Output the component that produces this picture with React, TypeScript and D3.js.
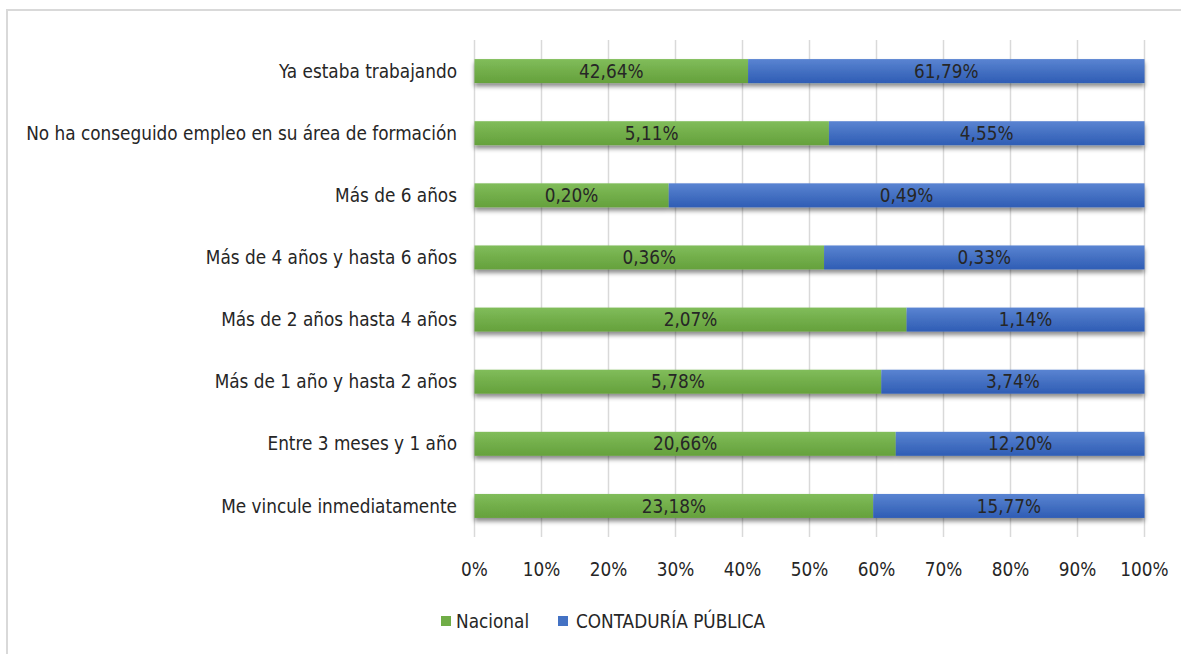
import React from "react";
import * as d3 from "d3";

const categories = [
  "Ya estaba trabajando",
  "No ha conseguido empleo en su área de formación",
  "Más de 6 años",
  "Más de 4 años y hasta 6 años",
  "Más de 2 años hasta 4 años",
  "Más de 1 año y hasta 2 años",
  "Entre 3 meses y 1 año",
  "Me vincule inmediatamente",
];
const nacional = [42.64, 5.11, 0.2, 0.36, 2.07, 5.78, 20.66, 23.18];
const contaduria = [61.79, 4.55, 0.49, 0.33, 1.14, 3.74, 12.2, 15.77];
const seriesNames = ["Nacional", "CONTADURÍA PÚBLICA"];
const tickValues = [0, 0.1, 0.2, 0.3, 0.4, 0.5, 0.6, 0.7, 0.8, 0.9, 1];

const W = 1181;
const H = 654;
const FONT = "'DejaVu Sans Condensed', 'Liberation Sans', sans-serif";
const FS = 18.8;

const fmt = (v: number) => v.toFixed(2).replace(".", ",") + "%";

export default function App() {
  const x = d3.scaleLinear().domain([0, 1]).range([474.5, 1144.5]);
  const y = d3
    .scaleBand<string>()
    .domain(categories)
    .range([40, 537])
    .paddingInner(0.614)
    .paddingOuter(0.307);
  const bw = y.bandwidth();

  const rows = categories.map((c, i) => {
    const a = nacional[i];
    const b = contaduria[i];
    const t = a + b;
    return { c, a, b, fa: a / t, fb: b / t };
  });

  return (
    <svg
      width={W}
      height={H}
      style={{ position: "absolute", left: 0, top: 0, display: "block", background: "#fff" }}
      fontFamily={FONT}
    >
      <defs>
        <linearGradient id="gGreen" x1="0" y1="0" x2="0" y2="1">
          <stop offset="0" stopColor="#81bd5b" />
          <stop offset="0.5" stopColor="#72ae4a" />
          <stop offset="1" stopColor="#65a13c" />
        </linearGradient>
        <linearGradient id="gBlue" x1="0" y1="0" x2="0" y2="1">
          <stop offset="0" stopColor="#5a84d2" />
          <stop offset="0.5" stopColor="#4470c2" />
          <stop offset="1" stopColor="#2f5db5" />
        </linearGradient>
        <filter id="shadow" x="-5%" y="-30%" width="110%" height="190%">
          <feDropShadow dx="0" dy="3.5" stdDeviation="2.2" floodColor="#000" floodOpacity="0.45" />
        </filter>
      </defs>
      {/* outer border */}
      <path d={`M7,${H} L7,10 L${W},10`} fill="none" stroke="#d9d9d9" strokeWidth={2} />

      {/* gridlines */}
      {tickValues.map((t) => (
        <line
          key={t}
          x1={x(t)}
          x2={x(t)}
          y1={40}
          y2={537}
          stroke="#d9d9d9"
          strokeWidth={1.5}
        />
      ))}

      {/* bars */}
      {rows.map((r) => {
        const y0 = y(r.c)!;
        return (
          <g key={r.c}>
            <g filter="url(#shadow)">
              <rect x={x(0)} y={y0} width={x(r.fa) - x(0)} height={bw} fill="url(#gGreen)" />
              <rect x={x(r.fa)} y={y0} width={x(1) - x(r.fa)} height={bw} fill="url(#gBlue)" />
            </g>
            <text
              x={(x(0) + x(r.fa)) / 2}
              y={y0 + bw / 2}
              dy="0.35em"
              textAnchor="middle"
              fontSize={FS}
              fill="#262626"
            >
              {fmt(r.a)}
            </text>
            <text
              x={(x(r.fa) + x(1)) / 2}
              y={y0 + bw / 2}
              dy="0.35em"
              textAnchor="middle"
              fontSize={FS}
              fill="#262626"
            >
              {fmt(r.b)}
            </text>
            <text
              x={457}
              y={y0 + bw / 2}
              dy="0.35em"
              textAnchor="end"
              fontSize={FS}
              fill="#262626"
            >
              {r.c}
            </text>
          </g>
        );
      })}

      {/* x tick labels */}
      {tickValues.map((t) => (
        <text key={t} x={x(t)} y={576} textAnchor="middle" fontSize={FS} fill="#262626">
          {Math.round(t * 100) + "%"}
        </text>
      ))}

      {/* legend */}
      <rect x={441} y={616} width={10} height={10} fill="#70ad47" />
      <text x={456} y={628} fontSize={FS} fill="#262626">
        {seriesNames[0]}
      </text>
      <rect x={558} y={616} width={10} height={10} fill="#4472c4" />
      <text x={576} y={628} fontSize={FS} fill="#262626">
        {seriesNames[1]}
      </text>
    </svg>
  );
}
